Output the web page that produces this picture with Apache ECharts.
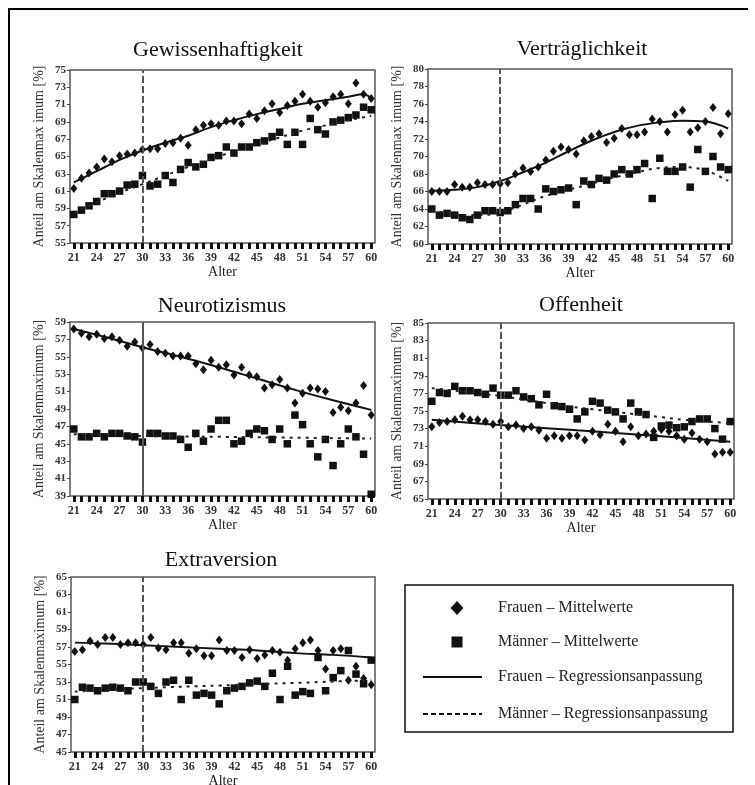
<!DOCTYPE html>
<html>
<head>
<meta charset="utf-8">
<script src="https://cdn.jsdelivr.net/npm/echarts@6/dist/echarts.min.js"></script>
<style>
  html, body { margin: 0; padding: 0; background: #fff; }
  #chart { width: 755px; height: 785px; }
</style>
</head>
<body>
<div id="chart"></div>
<script>
// Age categories on the x axis
const ages = ['21','22','23','24','25','26','27','28','29','30','31','32','33','34','35','36','37','38','39','40',
              '41','42','43','44','45','46','47','48','49','50','51','52','53','54','55','56','57','58','59','60'];

const panelTitles = ['Gewissenhaftigkeit', 'Verträglichkeit', 'Neurotizismus', 'Offenheit', 'Extraversion'];
const yAxisNames = ['Anteil am Skalenmax imum [%]', 'Anteil am Skalenmax imum [%]', 'Anteil am Skalenmaximum [%]',
                    'Anteil am Skalenmaximum [%]', 'Anteil am Skalenmaximum [%]'];
const yMins = [55, 60, 39, 65, 45];
const yMaxs = [75, 80, 59, 85, 65];
const xAxisName = 'Alter';

// Mean values per age (women / men)
const gewFrauen = [61.3,62.5,63.1,63.8,64.7,64.4,65.1,65.3,65.4,65.8,65.9,65.9,66.5,66.6,67.1,66.3,68.1,68.6,68.8,68.6,
                   69.1,69.1,68.8,69.9,69.4,70.3,71.1,70.1,70.9,71.4,72.2,71.4,70.7,71.2,71.9,72.2,71.1,73.5,72.2,71.7];
const gewMaenner = [58.3,58.8,59.3,59.8,60.7,60.7,61.0,61.7,61.8,62.8,61.6,61.8,62.8,62.0,63.5,64.3,63.8,64.1,64.9,65.1,
                    66.1,65.4,66.1,66.1,66.6,66.8,67.3,67.8,66.4,67.8,66.4,69.4,68.1,67.6,69.0,69.2,69.5,69.8,70.7,70.4];

const vertFrauen = [66.0,66.0,66.0,66.8,66.5,66.5,67.0,66.8,66.8,66.9,67.0,68.0,68.7,68.3,68.8,69.6,70.6,71.1,70.8,70.3,
                    71.8,72.3,72.6,71.6,72.1,73.2,72.5,72.5,72.8,74.3,74.0,72.8,74.8,75.3,72.8,73.3,74.0,75.6,72.6,74.9];
const vertMaenner = [64.0,63.3,63.5,63.3,63.0,62.8,63.3,63.8,63.8,63.6,63.8,64.5,65.2,65.2,64.0,66.3,66.0,66.2,66.4,64.5,
                     67.2,66.8,67.5,67.3,68.0,68.5,68.0,68.5,69.2,65.2,69.8,68.3,68.3,68.8,66.5,70.8,68.3,70.0,68.8,68.5];

const neuroFrauen = [58.2,57.7,57.3,57.6,57.1,57.3,56.9,56.2,56.7,56.0,56.4,55.6,55.4,55.1,55.1,55.1,54.2,53.5,54.6,53.8,
                     54.1,52.9,53.8,52.9,52.7,51.4,51.8,52.4,51.4,49.7,50.8,51.4,51.3,51.0,48.6,49.2,48.8,49.7,51.7,48.3];
const neuroMaenner = [46.7,45.8,45.8,46.2,45.8,46.2,46.2,45.9,45.8,45.2,46.2,46.2,45.9,45.9,45.5,44.6,46.2,45.3,46.7,47.7,
                      47.7,45.0,45.3,46.2,46.7,46.5,45.5,46.7,45.0,48.3,47.2,45.0,43.5,45.5,42.5,45.0,46.7,45.8,43.8,39.2];

const offenFrauen = [73.2,73.7,73.8,74.0,74.4,74.0,74.0,73.8,73.5,73.8,73.2,73.4,73.0,73.2,72.8,71.9,72.2,71.9,72.2,72.2,
                     71.7,72.7,72.3,73.5,72.7,71.5,73.2,72.2,72.4,72.7,72.9,72.7,72.2,71.8,72.5,71.8,71.5,70.1,70.3,70.3];
const offenMaenner = [76.1,77.1,77.0,77.8,77.3,77.3,77.1,76.9,77.6,76.8,76.8,77.3,76.6,76.4,75.7,76.9,75.6,75.5,75.2,74.1,
                      74.9,76.1,75.9,75.1,74.9,74.1,75.9,74.9,74.6,72.0,73.3,73.4,73.1,73.2,73.8,74.1,74.1,73.0,71.8,73.8];

const extraFrauen = [56.5,56.7,57.7,57.3,58.1,58.1,57.3,57.5,57.5,57.3,58.1,56.9,56.7,57.5,57.5,56.3,56.8,56.0,56.0,57.8,
                     56.6,56.6,55.8,56.7,55.7,56.1,56.6,56.4,55.5,56.8,57.5,57.8,56.6,54.5,56.6,56.8,53.2,54.8,53.4,52.7];
const extraMaenner = [51.0,52.4,52.3,52.0,52.3,52.4,52.3,52.0,53.0,53.0,52.5,51.7,53.0,53.2,51.0,53.2,51.5,51.7,51.5,50.5,
                      52.0,52.3,52.5,52.9,53.1,52.5,54.0,51.0,54.8,51.5,51.9,51.7,55.8,52.0,53.5,54.3,56.6,53.9,52.8,55.5];

// Regression curves, sampled at the listed ages
const gewFitAgesF = [21,24,27,30,33,36,39,42,45,48,51,54,57,59,60];
const gewFitF     = [62.0,63.3,64.6,65.7,66.6,67.4,68.4,69.2,69.9,70.5,71.1,71.5,71.9,72.2,71.7];
const gewFitAgesM = [21,24,27,30,33,36,39,42,45,48,51,54,57,60];
const gewFitM     = [58.5,59.7,60.8,61.8,62.8,63.8,64.7,65.6,66.4,67.2,68.0,68.6,69.2,69.7];

const vertFitAges = [21,24,27,30,33,36,39,42,45,48,51,54,57,60];
const vertFitF    = [66.1,66.2,66.5,67.2,68.2,69.3,70.6,71.8,72.8,73.5,73.9,74.1,74.0,73.2];
const vertFitM    = [63.9,63.4,63.3,63.6,64.5,65.5,66.2,66.9,67.6,68.2,68.7,68.8,68.4,67.2];

const neuroFitAgesF = [21,25,30,35,40,45,50,55,60];
const neuroFitF     = [58.2,57.3,56.1,55.0,53.8,52.5,51.2,50.0,48.9];
const neuroFitAgesM = [21,30,40,50,60];
const neuroFitM     = [46.1,45.9,45.8,45.7,45.6];

const offenFitAgesF = [21,30,40,50,60];
const offenFitF     = [74.0,73.4,72.8,72.2,71.5];
const offenFitAgesM = [21,24,27,30,33,36,39,42,45,48,51,54,57,60];
const offenFitM     = [77.6,77.3,77.0,76.7,76.3,75.9,75.5,75.2,74.9,74.6,74.3,74.0,73.8,73.6];

const extraFitAgesF = [21,25,30,35,40,45,50,55,60];
const extraFitF     = [57.5,57.4,57.2,57.0,56.8,56.6,56.3,56.1,55.8];
const extraFitAgesM = [21,30,40,50,60];
const extraFitM     = [51.9,52.3,52.6,52.9,53.2];

const referenceAge = '30';

const legendLabels = ['Frauen – Mittelwerte', 'Männer – Mittelwerte',
                      'Frauen – Regressionsanpassung', 'Männer – Regressionsanpassung'];

// ---- assemble panels ----
const frauenMeans = [gewFrauen, vertFrauen, neuroFrauen, offenFrauen, extraFrauen];
const maennerMeans = [gewMaenner, vertMaenner, neuroMaenner, offenMaenner, extraMaenner];
const fitFAges = [gewFitAgesF, vertFitAges, neuroFitAgesF, offenFitAgesF, extraFitAgesF];
const fitF = [gewFitF, vertFitF, neuroFitF, offenFitF, extraFitF];
const fitMAges = [gewFitAgesM, vertFitAges, neuroFitAgesM, offenFitAgesM, extraFitAgesM];
const fitM = [gewFitM, vertFitM, neuroFitM, offenFitM, extraFitM];

const SERIF = '"Liberation Serif", "DejaVu Serif", "Times New Roman", serif';

const gridBoxes = [
  { left: 70,  top: 70,  width: 305, height: 173 },
  { left: 428, top: 69,  width: 304, height: 175 },
  { left: 70,  top: 322, width: 305, height: 174 },
  { left: 428, top: 323, width: 306, height: 176 },
  { left: 71,  top: 577, width: 304, height: 175 }
];
const titleCenters = [[218, 50], [582, 49], [222, 306], [581, 305], [221, 560]];
const refLineTypes = [[7, 3], [7, 3], 'solid', [7, 3], [7, 3]];

const grid = [], xAxis = [], yAxis = [], series = [], graphic = [];

gridBoxes.forEach((g, i) => {
  grid.push(Object.assign({
    show: true, borderColor: '#555', borderWidth: 1.5,
    backgroundColor: 'transparent', containLabel: false, outerBoundsMode: 'none'
  }, g));

  xAxis.push({
    type: 'category', gridIndex: i, data: ages, boundaryGap: true,
    axisLine: { show: false },
    axisTick: { show: true, alignWithLabel: true, interval: 0, length: 6,
                lineStyle: { color: '#111', width: 3 } },
    axisLabel: { interval: 2, margin: 9, fontFamily: SERIF, fontSize: 12, fontWeight: 'bold', color: '#333' },
    splitLine: { show: false },
    name: xAxisName, nameLocation: 'middle', nameGap: 20,
    nameTextStyle: { fontFamily: SERIF, fontSize: 14, color: '#222' }
  });

  yAxis.push({
    type: 'value', gridIndex: i, min: yMins[i], max: yMaxs[i], interval: 2,
    axisLine: { show: false },
    axisTick: { show: true, length: 3, lineStyle: { color: '#444', width: 1 } },
    axisLabel: { margin: 4, fontFamily: SERIF, fontSize: 11, fontWeight: 'bold', color: '#333' },
    splitLine: { show: false },
    name: yAxisNames[i], nameLocation: 'middle', nameGap: 24, nameRotate: 90,
    nameTextStyle: { fontFamily: SERIF, fontSize: 14, color: '#333' }
  });

  series.push({
    type: 'scatter', name: legendLabels[0], xAxisIndex: i, yAxisIndex: i,
    data: frauenMeans[i], symbol: 'diamond', symbolSize: [7, 9],
    itemStyle: { color: '#111', opacity: 1 }, z: 3,
    markLine: {
      silent: true, symbol: ['none', 'none'], animation: false,
      label: { show: false },
      lineStyle: { color: '#555', width: 2, type: refLineTypes[i], opacity: 1 },
      data: [{ xAxis: referenceAge }]
    }
  });
  series.push({
    type: 'scatter', name: legendLabels[1], xAxisIndex: i, yAxisIndex: i,
    data: maennerMeans[i], symbol: 'rect', symbolSize: 7.5,
    itemStyle: { color: '#111', opacity: 1 }, z: 3
  });
  series.push({
    type: 'line', name: legendLabels[2], xAxisIndex: i, yAxisIndex: i,
    data: fitFAges[i].map((a, k) => [String(a), fitF[i][k]]),
    smooth: 0.4, symbol: 'none', lineStyle: { color: '#111', width: 2 }, z: 4
  });
  series.push({
    type: 'line', name: legendLabels[3], xAxisIndex: i, yAxisIndex: i,
    data: fitMAges[i].map((a, k) => [String(a), fitM[i][k]]),
    smooth: 0.4, symbol: 'none', lineStyle: { color: '#222', width: 2, type: [3, 5] }, z: 4
  });

  graphic.push({
    type: 'text', x: titleCenters[i][0], y: titleCenters[i][1], silent: true,
    style: { text: panelTitles[i], font: '22px ' + SERIF, fill: '#111',
             textAlign: 'center', textVerticalAlign: 'middle' }
  });
});

// outer frame (left and top edge)
graphic.push({ type: 'polyline', silent: true,
  shape: { points: [[9, 785], [9, 9], [748, 9]] },
  style: { stroke: '#000', lineWidth: 2, fill: null } });

// key box
const keyX = 405, keyY = 585;
graphic.push({ type: 'rect', silent: true,
  shape: { x: keyX, y: keyY, width: 328, height: 147 },
  style: { fill: '#fff', stroke: '#111', lineWidth: 1.5 } });
const keyRows = [608, 642, 677, 714];
graphic.push({ type: 'polygon', silent: true,
  shape: { points: [[457, keyRows[0] - 7], [463.5, keyRows[0]], [457, keyRows[0] + 7], [450.5, keyRows[0]]] },
  style: { fill: '#111' } });
graphic.push({ type: 'rect', silent: true,
  shape: { x: 451.5, y: keyRows[1] - 5.5, width: 11, height: 11 },
  style: { fill: '#111' } });
graphic.push({ type: 'line', silent: true,
  shape: { x1: 423, y1: keyRows[2], x2: 482, y2: keyRows[2] },
  style: { stroke: '#111', lineWidth: 2 } });
graphic.push({ type: 'line', silent: true,
  shape: { x1: 423, y1: keyRows[3], x2: 482, y2: keyRows[3] },
  style: { stroke: '#111', lineWidth: 2, lineDash: [5, 3] } });
legendLabels.forEach((t, k) => {
  graphic.push({ type: 'text', x: 498, y: keyRows[k], silent: true,
    style: { text: t, font: '16px ' + SERIF, fill: '#222',
             textAlign: 'left', textVerticalAlign: 'middle' } });
});

const chart = echarts.init(document.getElementById('chart'), null, { renderer: 'canvas' });
chart.setOption({
  animation: false,
  backgroundColor: '#fff',
  grid, xAxis, yAxis, series, graphic
});
</script>
</body>
</html>
